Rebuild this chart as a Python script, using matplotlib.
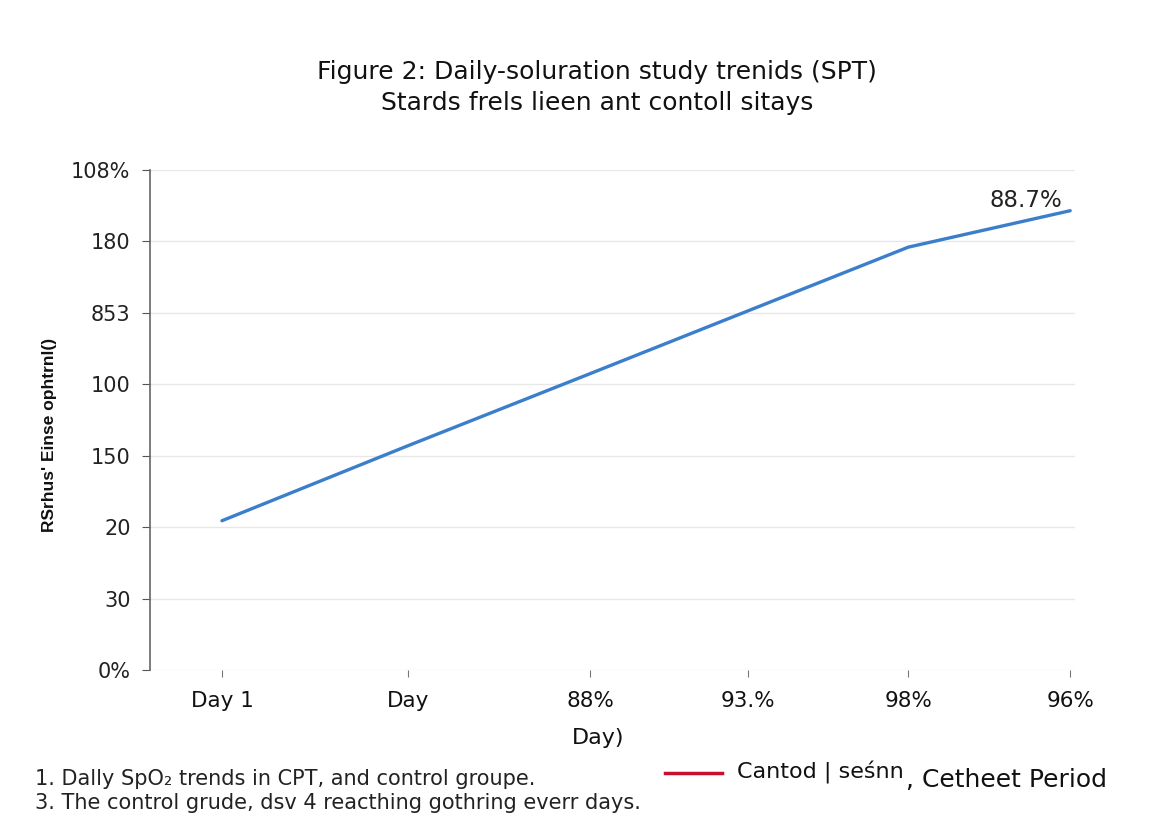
import matplotlib
matplotlib.use("Agg")
import matplotlib.pyplot as plt
from matplotlib.lines import Line2D

plt.rcParams['font.family'] = ['DejaVu Sans']

# data
day_pos = [0.0, 1.0, 1.98, 2.83, 3.69, 4.56]
day_labels = ['Day 1', 'Day', '88%', '93.%', '98%', '96%']
spo2 = [2.09, 3.14, 4.15, 5.03, 5.92, 6.43]
y_ticks = [0, 1, 2, 3, 4, 5, 6, 7]
y_labels = ['0%', '30', '20', '150', '100', '853', '180', '108%']
end_label = '88.7%'

fig = plt.figure(figsize=(11.52, 8.21), dpi=100)
ax = fig.add_axes([150 / 1152, 1 - 670 / 821, 925 / 1152, 500 / 821])

ax.plot(day_pos, spo2, color='#3b7fcc', linewidth=2.4, solid_capstyle='round')
ax.annotate(end_label, (day_pos[-1], spo2[-1]), xytext=(-58, 3),
            textcoords='offset points', fontsize=16.5, color='#222222')

ax.set_xlim(-0.387, 4.586)
ax.set_ylim(0, 7)
ax.set_yticks(y_ticks)
ax.set_yticklabels(y_labels, fontsize=15, color='#222222')
ax.set_xticks(day_pos)
ax.set_xticklabels(day_labels, fontsize=15.5, color='#111111')
ax.tick_params(axis='y', length=6, color='#555555', pad=8)
ax.tick_params(axis='x', length=5, color='#777777', pad=10, direction='out')
ax.grid(axis='y', color='#e8e8e8', linewidth=1)
ax.set_axisbelow(True)
for s in ['top', 'right', 'bottom']:
    ax.spines[s].set_visible(False)
ax.spines['left'].set_color('#666666')
ax.spines['left'].set_linewidth(1.2)

ax.set_xlabel('Day)', fontsize=16, color='#111111')
ax.xaxis.set_label_coords((598 - 150) / 925, -(728 - 670) / 500, transform=ax.transAxes)
ax.set_ylabel("RSrhus' Einse ophtrnl()", fontsize=12.5, color='#111111',
              family='Liberation Sans', fontweight='bold')
ax.yaxis.set_label_coords(-(150 - 57) / 925, (670 - 435) / 500, transform=ax.transAxes)

fig.text(597 / 1152, 1 - 72 / 821, 'Figure 2: Daily-soluration study trenids (SPT)',
         ha='center', va='center', fontsize=18, color='#111111')
fig.text(597 / 1152, 1 - 103 / 821, 'Stards frels lieen ant contoll sitays',
         ha='center', va='center', fontsize=18, color='#111111')

fig.text(35 / 1152, 1 - 779 / 821, '1. Dally SpO\u2082 trends in CPT, and control groupe.',
         ha='left', va='center', fontsize=15, color='#222222')
fig.text(35 / 1152, 1 - 803 / 821, '3. The control grude, dsv 4 reacthing gothring everr days.',
         ha='left', va='center', fontsize=15, color='#222222')

fig.add_artist(Line2D([665 / 1152, 722 / 1152], [1 - 773 / 821, 1 - 773 / 821],
                      color='#c8102e', linewidth=2.5))
fig.text(737 / 1152, 1 - 772 / 821, 'Cantod | se\u015bnn', ha='left', va='center',
         fontsize=16, color='#111111')
fig.text(906 / 1152, 1 - 780 / 821, ', Cetheet Period', ha='left', va='center',
         fontsize=18, color='#111111')

fig.savefig('out.png', dpi=100, facecolor='white')
